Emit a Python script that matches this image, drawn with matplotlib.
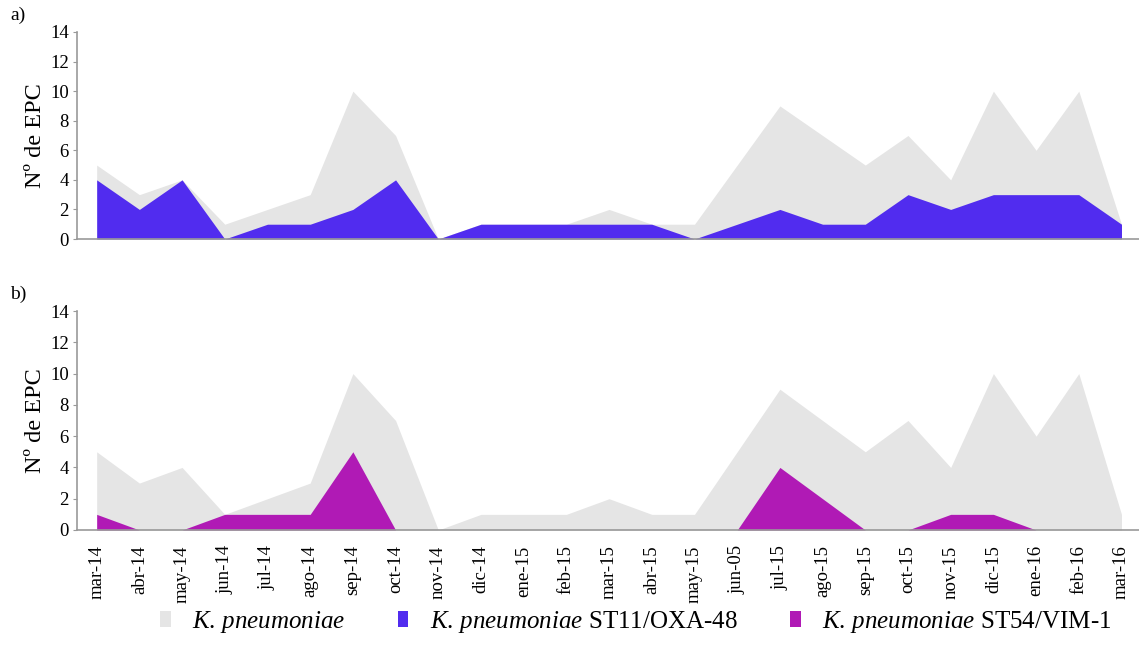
import matplotlib
matplotlib.use("Agg")
import matplotlib.pyplot as plt
from matplotlib.patches import Patch
import numpy as np

months = ["mar-14", "abr-14", "may-14", "jun-14", "jul-14", "ago-14", "sep-14",
          "oct-14", "nov-14", "dic-14", "ene-15", "feb-15", "mar-15", "abr-15",
          "may-15", "jun-05", "jul-15", "ago-15", "sep-15", "oct-15", "nov-15",
          "dic-15", "ene-16", "feb-16", "mar-16"]

kp_total = [5, 3, 4, 1, 2, 3, 10, 7, 0, 1, 1, 1, 2, 1, 1, 5, 9, 7, 5, 7, 4, 10, 6, 10, 1]
st11_oxa48 = [4, 2, 4, 0, 1, 1, 2, 4, 0, 1, 1, 1, 1, 1, 0, 1, 2, 1, 1, 3, 2, 3, 3, 3, 1]
st54_vim1 = [1, 0, 0, 1, 1, 1, 5, 0, 0, 0, 0, 0, 0, 0, 0, 0, 4, 2, 0, 0, 1, 1, 0, 0, 0]

yticks = [0, 2, 4, 6, 8, 10, 12, 14]

c_gray = "#e5e5e5"
c_blue = "#512cef"
c_mag = "#b01ab5"
c_axis = "#999999"

plt.rcParams["font.family"] = ["Liberation Serif", "DejaVu Serif"]
plt.rcParams["mathtext.fontset"] = "custom"
plt.rcParams["mathtext.rm"] = "Liberation Serif"
plt.rcParams["mathtext.it"] = "Liberation Serif:italic"

W, H = 1139, 664
fig = plt.figure(figsize=(W / 100, H / 100), dpi=100)

x = np.arange(len(months))
left = 77 / W
width = 1 - left


def panel(bottom_px, top_px, strain, color, letter):
    ax = fig.add_axes([left, 1 - bottom_px / H, width, (bottom_px - top_px) / H])
    ax.fill_between(x, 0, kp_total, color=c_gray, linewidth=0)
    ax.fill_between(x, 0, strain, color=color, linewidth=0)
    ax.set_xlim(-0.461, 24.41)
    ax.set_ylim(0, 14)
    ax.set_yticks(yticks)
    ax.tick_params(axis="y", labelsize=13.5, length=3, color=c_axis, pad=3)
    ax.set_xticks(x)
    ax.tick_params(axis="x", length=0)
    for s in ("top", "right"):
        ax.spines[s].set_visible(False)
    for s in ("left", "bottom"):
        ax.spines[s].set_color(c_axis)
        ax.spines[s].set_linewidth(1.2)
    ax.set_ylabel("Nº de EPC", fontsize=17.5, labelpad=3)
    fig.text(10 / W, 1 - (top_px - 17) / H, letter, fontsize=14, ha="left", va="center")
    return ax


ax_a = panel(239, 32, st11_oxa48, c_blue, "a)")
ax_a.set_xticklabels([])

ax_b = panel(530, 311, st54_vim1, c_mag, "b)")
ax_b.set_xticklabels(months, rotation=90, fontsize=13.5, va="top", ha="center")
ax_b.tick_params(axis="x", pad=11)

handles = [Patch(facecolor=c_gray, edgecolor="none"),
           Patch(facecolor=c_blue, edgecolor="none"),
           Patch(facecolor=c_mag, edgecolor="none")]
labels = [r"$\it{K.\,pneumoniae}$",
          r"$\it{K.\,pneumoniae}$ ST11/OXA-48",
          r"$\it{K.\,pneumoniae}$ ST54/VIM-1"]
fig.legend(handles, labels, loc="center", bbox_to_anchor=(0.558, 1 - 622 / H),
           ncol=3, frameon=False, fontsize=18, handlelength=0.42, handleheight=0.6,
           handletextpad=0.85, columnspacing=2.1)

fig.savefig("out.png", dpi=100)
